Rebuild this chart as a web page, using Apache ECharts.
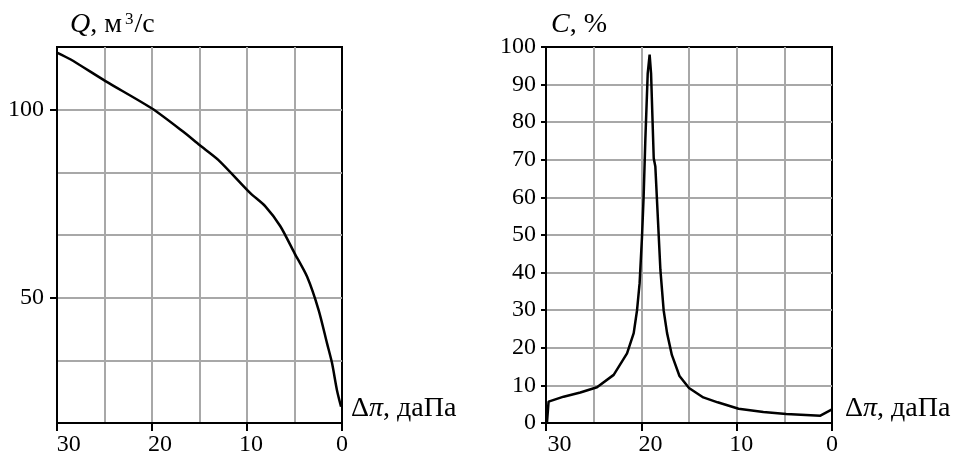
<!DOCTYPE html>
<html><head><meta charset="utf-8">
<script src="https://cdn.jsdelivr.net/npm/echarts@6/dist/echarts.min.js"></script>
<style>html,body{margin:0;padding:0;background:#fff}#c{width:964px;height:457px}</style>
</head><body><div id="c"></div>
<script>
// Left chart: Q (m3/s) vs pressure drop
const flowX = [30, 28.6, 24.9, 20, 16.7, 15, 13, 9.65, 8.07, 6.49, 4.99, 3.68, 2.46, 1.58, 1.05, 0.53, 0.1];
const flowQ = [115.2, 113.4, 107.6, 100.3, 94.1, 90.6, 86.6, 77.8, 74.3, 69.0, 61.8, 55.6, 46.7, 37.9, 32.6, 25.4, 21.0];
// Right chart: C (%) vs pressure drop
const concX = [29.9, 29.73, 28.15, 26.4, 24.65, 22.9, 21.5, 20.8, 20.45, 20.18, 19.93, 19.76, 19.58, 19.33, 19.13, 18.98, 18.7, 18.53, 18.0, 17.66, 17.3, 16.8, 16.0, 15.0, 13.5, 12.0, 9.8, 7.2, 4.8, 1.22, 0];
const concC = [0, 5.7, 7.0, 8.1, 9.5, 12.8, 18.5, 23.9, 30, 37.2, 49.5, 60.2, 75.3, 93, 98, 93, 70.4, 68.2, 40.7, 30, 23.9, 18.1, 12.5, 9.3, 6.8, 5.5, 3.8, 2.9, 2.4, 1.95, 3.6];
// Tick labels
const xTickValues = [30, 20, 10, 0];
const qTickValues = [100, 50];
const xName = '{a|Δ}{i|π}{a|, даПа}';
const qName = '{i|Q}{a|, м}{s|3}{a|/с}';
const cName = '{i|C}{a|, %}';

const FONT = 'Liberation Serif';
const GRAY = '#a8a8a8';
const NS = 28;
const richText = {
  a: {fontFamily: FONT, fontSize: NS, color: '#000'},
  i: {fontFamily: FONT, fontSize: NS, fontStyle: 'italic', color: '#000'},
  s: {fontFamily: FONT, fontSize: 17, color: '#000', verticalAlign: 'top', padding: [0, 1, 11, 3]}
};
const gridLine = {color: GRAY, width: 2};
const labelStyle = {fontFamily: FONT, fontSize: 24, color: '#000'};
const blackLine = {color: '#000', width: 2};

function mainX(gi, name, gap) {
  return {
    type: 'value', gridIndex: gi, position: 'bottom', min: 0, max: 30, interval: 10, inverse: true,
    axisLine: {show: true, onZero: false, lineStyle: blackLine},
    axisTick: {show: true, length: 8, lineStyle: blackLine},
    axisLabel: {show: false},
    splitLine: {show: true, showMinLine: false, showMaxLine: false, lineStyle: gridLine},
    minorTick: {show: false, splitNumber: 2},
    minorSplitLine: {show: true, lineStyle: gridLine},
    name: name, nameLocation: 'start', nameGap: gap,
    nameTextStyle: {align: 'left', verticalAlign: 'bottom', rich: richText}
  };
}
function labelX(gi, max) {
  return {
    type: 'value', gridIndex: gi, position: 'bottom', min: 0, max: max, inverse: true,
    axisLine: {show: false, onZero: false}, axisTick: {show: false}, splitLine: {show: false},
    axisLabel: Object.assign({customValues: xTickValues, margin: 10}, labelStyle)
  };
}

const option = {
  animation: false,
  backgroundColor: '#fff',
  grid: [
    {left: 57, top: 47, width: 285, height: 376, show: true, borderColor: '#000', borderWidth: 2,
     backgroundColor: 'transparent', outerBoundsMode: 'none', containLabel: false},
    {left: 546, top: 47, width: 286, height: 376, show: true, borderColor: '#000', borderWidth: 2,
     backgroundColor: 'transparent', outerBoundsMode: 'none', containLabel: false}
  ],
  xAxis: [
    mainX(0, xName, 9),
    labelX(0, 31.3),
    mainX(1, xName, 13),
    labelX(1, 31.5)
  ],
  yAxis: [
    {
      type: 'value', gridIndex: 0, position: 'left', min: 50 / 3, max: 350 / 3, interval: 50 / 3,
      axisLine: {show: true, onZero: false, lineStyle: blackLine},
      axisTick: {show: false},
      axisLabel: {show: false},
      splitLine: {show: true, showMinLine: false, showMaxLine: false, lineStyle: gridLine},
      name: qName, nameLocation: 'end', nameGap: 8,
      nameTextStyle: {align: 'left', verticalAlign: 'bottom', padding: [0, 0, 0, 13], rich: richText}
    },
    {
      type: 'value', gridIndex: 1, position: 'left', min: 0, max: 100, interval: 10,
      axisLine: {show: true, onZero: false, lineStyle: blackLine},
      axisTick: {show: true, length: 5, lineStyle: blackLine},
      axisLabel: Object.assign({margin: 10}, labelStyle),
      splitLine: {show: true, showMinLine: false, showMaxLine: false, lineStyle: gridLine},
      name: cName, nameLocation: 'end', nameGap: 8,
      nameTextStyle: {align: 'left', verticalAlign: 'bottom', padding: [0, 0, 0, 5], rich: richText}
    },
    {
      type: 'value', gridIndex: 0, position: 'left', offset: 0, min: 50 / 3, max: 350 / 3,
      axisLine: {show: false, onZero: false},
      axisTick: {show: true, customValues: qTickValues, length: 7, lineStyle: blackLine},
      axisLabel: Object.assign({customValues: qTickValues, margin: 13}, labelStyle),
      splitLine: {show: false}
    }
  ],
  series: [
    {
      type: 'line', xAxisIndex: 0, yAxisIndex: 0, smooth: 0.25, symbol: 'none',
      lineStyle: {color: '#000', width: 2.5},
      data: flowX.map((x, i) => [x, flowQ[i]])
    },
    {
      type: 'line', xAxisIndex: 2, yAxisIndex: 1, smooth: false, symbol: 'none',
      lineStyle: {color: '#000', width: 2.5},
      data: concX.map((x, i) => [x, concC[i]])
    }
  ]
};
const chart = echarts.init(document.getElementById('c'), null, {renderer: 'canvas'});
chart.setOption(option);
</script>
</body></html>
